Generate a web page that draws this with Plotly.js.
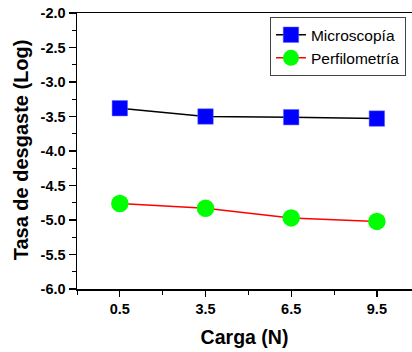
<!DOCTYPE html>
<html><head><meta charset="utf-8">
<script src="https://cdn.plot.ly/plotly-3.0.1.min.js"></script>
<style>html,body{margin:0;padding:0;overflow:hidden;background:#fff;}#chart{width:412px;height:352px;}</style>
</head><body><div id="chart"></div>
<script>
const cargas = [0.5, 3.5, 6.5, 9.5];
const microscopia = [-3.38, -3.50, -3.51, -3.53];
const perfilometria = [-4.76, -4.83, -4.97, -5.02];
const xTicks = [0.5, 3.5, 6.5, 9.5];
const xTickLabels = ['0.5', '3.5', '6.5', '9.5'];
const yTicks = [-2.0, -2.5, -3.0, -3.5, -4.0, -4.5, -5.0, -5.5, -6.0];
const yTickLabels = ['-2.0', '-2.5', '-3.0', '-3.5', '-4.0', '-4.5', '-5.0', '-5.5', '-6.0'];

const FAM = 'Liberation Sans, Arial, sans-serif';
const bold = s => '<b>' + s + '</b>';
const tickFont = {family: FAM, size: 14.5, color: '#000'};
const data = [
  {x: cargas, y: microscopia, name: 'Microscopía', mode: 'lines+markers', type: 'scatter',
   line: {color: '#000', width: 1.5},
   marker: {symbol: 'square', size: 15.5, color: '#0000ff', line: {width: 0.5, color: '#6a6aff'}}},
  {x: cargas, y: perfilometria, name: 'Perfilometría', mode: 'lines+markers', type: 'scatter',
   line: {color: '#ff0000', width: 1.5},
   marker: {symbol: 'circle', size: 17.5, color: '#00ff00', line: {width: 0}}}
];
const layout = {
  width: 412, height: 352,
  margin: {l: 77, r: 0, t: 13, b: 63},
  paper_bgcolor: '#fff', plot_bgcolor: '#fff',
  showlegend: true,
  legend: {x: 0.576, y: 0.985, xanchor: 'left', yanchor: 'top',
    bgcolor: '#fff', bordercolor: '#444', borderwidth: 1,
    font: {family: FAM, size: 15.5, color: '#000'},
    tracegroupgap: 0, itemsizing: 'trace'},
  xaxis: {range: [-1.0, 10.73], tickmode: 'array', tickvals: xTicks, ticktext: xTickLabels.map(bold),
    ticks: 'outside', ticklen: 6, tickwidth: 1.3, tickcolor: '#000',
    showline: true, linecolor: '#000', linewidth: 1.5, mirror: true,
    showgrid: false, zeroline: false, tickfont: tickFont,
    minor: {tickmode: 'array', tickvals: [-1.0, 2.0, 5.0, 8.0], ticks: 'outside', ticklen: 4, tickwidth: 1, tickcolor: '#000', showgrid: false},
    title: {text: bold('Carga (N)'), font: {family: FAM, size: 19.5, color: '#000'}, standoff: 14}},
  yaxis: {range: [-6.0, -2.0], tickmode: 'array', tickvals: yTicks, ticktext: yTickLabels.map(bold),
    ticks: 'outside', ticklen: 7, tickwidth: 1.3, tickcolor: '#000',
    showline: true, linecolor: '#000', linewidth: 1.5, mirror: false,
    showgrid: false, zeroline: false, tickfont: tickFont,
    minor: {dtick: 0.25, tick0: -2.0, ticks: 'outside', ticklen: 4, tickwidth: 1, tickcolor: '#000', showgrid: false},
    title: {text: ''}},
  annotations: [{text: bold('Tasa de desgaste (Log)'), xref: 'paper', yref: 'paper',
    x: -0.168, y: 0.505, xanchor: 'center', yanchor: 'middle', textangle: -90, showarrow: false,
    font: {family: FAM, size: 20, color: '#000'}}]
};
Plotly.newPlot('chart', data, layout, {displayModeBar: false, staticPlot: true});
</script></body></html>
